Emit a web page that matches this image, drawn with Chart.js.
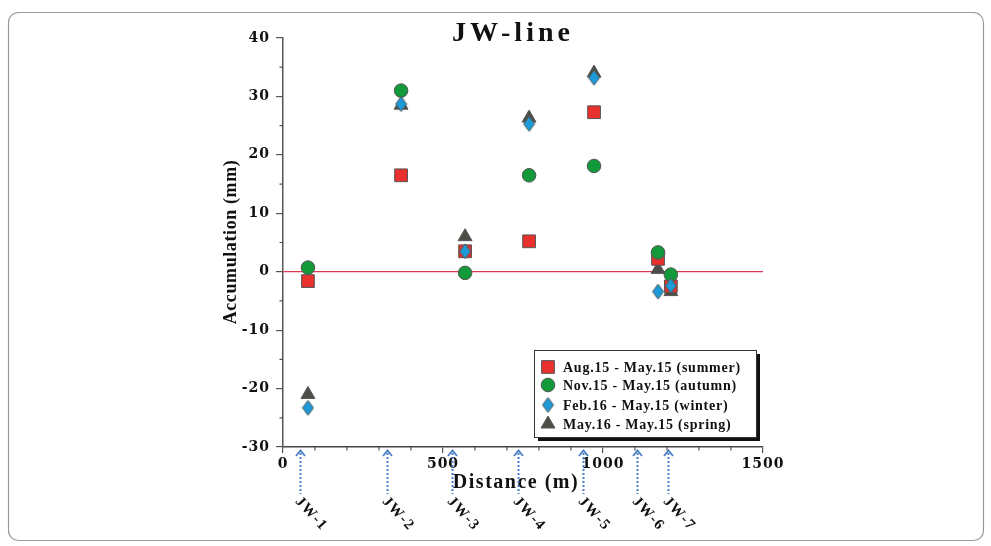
<!DOCTYPE html>
<html>
<head>
<meta charset="utf-8">
<script src="https://cdn.jsdelivr.net/npm/chart.js@4/dist/chart.umd.min.js"></script>
<style>
html,body{margin:0;padding:0;background:#fff;}
canvas{display:block;}
</style>
</head>
<body>
<canvas id="c" width="991" height="546"></canvas>
<script>
// ---- data ----
const distances = [78, 369, 569, 769, 972, 1172, 1212];
const summer = [-1.6, 16.5, 3.5, 5.2, 27.3, 2.2, -2.5];
const autumn = [0.7, 31.0, -0.2, 16.5, 18.1, 3.3, -0.5];
const winter = [-23.3, 28.7, 3.5, 25.3, 33.2, -3.4, -2.4];
const spring = [-21.0, 28.5, 6.0, 26.3, 34.0, 0.4, -3.4];
const seriesNames = [
  'Aug.15 - May.15 (summer)',
  'Nov.15 - May.15 (autumn)',
  'Feb.16 - May.15 (winter)',
  'May.16 - May.15 (spring)'
];
const wellPositions = [53, 324, 527, 734, 937, 1107, 1204];
const wellLabels = ['JW-1', 'JW-2', 'JW-3', 'JW-4', 'JW-5', 'JW-6', 'JW-7'];
const chartTitle = 'JW-line';
const xTitle = 'Distance (m)';
const yTitle = 'Accumulation (mm)';

const SERIF = '"Liberation Serif", "DejaVu Serif", serif';
const TICKFONT = '"DejaVu Serif", "Liberation Serif", serif';
const pts = (arr) => distances.map((d, i) => ({x: d, y: arr[i]}));

function makeDiamond(w, h, fill) {
  const cv = document.createElement('canvas');
  cv.width = w + 2; cv.height = h + 2;
  const c = cv.getContext('2d');
  c.beginPath();
  c.moveTo(cv.width / 2, 1);
  c.lineTo(cv.width - 1, cv.height / 2);
  c.lineTo(cv.width / 2, cv.height - 1);
  c.lineTo(1, cv.height / 2);
  c.closePath();
  c.fillStyle = fill; c.fill();
  c.strokeStyle = '#555'; c.lineWidth = 1; c.stroke();
  return cv;
}
const diamond = makeDiamond(11, 15, '#1c9bd8');

const styles = [
  {bg: '#e8302c', style: 'rect', r: 9, order: 2},
  {bg: '#12993a', style: 'circle', r: 6.8, order: 1},
  {bg: '#1c9bd8', style: diamond, r: 8, order: 0},
  {bg: '#4d4d48', style: 'triangle', r: 8, order: 3}
];
const seriesData = [summer, autumn, winter, spring];

const datasets = seriesData.map((arr, i) => ({
  label: seriesNames[i],
  data: pts(arr),
  backgroundColor: styles[i].bg,
  borderColor: '#555',
  borderWidth: 1,
  pointStyle: styles[i].style,
  pointRadius: styles[i].r,
  pointHoverRadius: styles[i].r,
  order: styles[i].order
}));

const decor = {
  id: 'decor',
  beforeDraw(chart) {
    chart.ctx.letterSpacing = '1px';
  },
  beforeDatasetsDraw(chart) {
    const {ctx, chartArea, scales} = chart;
    const y0 = scales.y.getPixelForValue(0);
    ctx.save();
    ctx.strokeStyle = '#dc3a55';
    ctx.lineWidth = 1.3;
    ctx.beginPath();
    ctx.moveTo(chartArea.left, y0);
    ctx.lineTo(chartArea.right, y0);
    ctx.stroke();
    ctx.restore();
  },
  afterDraw(chart) {
    const {ctx, chartArea, scales} = chart;
    const xs = scales.x, ys = scales.y;
    ctx.save();
    // frame
    ctx.strokeStyle = '#9a9a9a';
    ctx.lineWidth = 1.2;
    ctx.beginPath();
    ctx.roundRect(8.5, 12.5, 975, 528, 10);
    ctx.stroke();

    // minor ticks
    ctx.strokeStyle = '#555';
    ctx.lineWidth = 1.2;
    ctx.beginPath();
    for (let v = -25; v <= 35; v += 10) {
      const y = ys.getPixelForValue(v);
      ctx.moveTo(chartArea.left - 3.5, y);
      ctx.lineTo(chartArea.left, y);
    }
    for (let v = 100; v < 1500; v += 100) {
      if (v % 500 === 0) continue;
      const x = xs.getPixelForValue(v);
      ctx.moveTo(x, chartArea.bottom);
      ctx.lineTo(x, chartArea.bottom + 3.5);
    }
    ctx.stroke();

    // title
    ctx.fillStyle = '#111';
    ctx.textAlign = 'center';
    ctx.textBaseline = 'alphabetic';
    ctx.letterSpacing = '4px';
    ctx.font = 'bold 28px ' + SERIF;
    ctx.fillText(chartTitle, 513, 41);

    // axis titles
    ctx.letterSpacing = '1.5px';
    ctx.font = 'bold 20px ' + SERIF;
    ctx.fillText(xTitle, 516, 488);
    ctx.letterSpacing = '0.6px';
    ctx.font = 'bold 18px ' + SERIF;
    ctx.save();
    ctx.translate(236, 242);
    ctx.rotate(-Math.PI / 2);
    ctx.fillText(yTitle, 0, 0);
    ctx.restore();

    // legend
    const lx = 534, ly = 350, lw = 222, lh = 87;
    ctx.fillStyle = '#111';
    ctx.fillRect(lx + 4, ly + 4, lw, lh);
    ctx.fillStyle = '#fff';
    ctx.fillRect(lx, ly, lw, lh);
    ctx.strokeStyle = '#333';
    ctx.lineWidth = 1;
    ctx.strokeRect(lx + 0.5, ly + 0.5, lw, lh);
    ctx.textAlign = 'left';
    ctx.textBaseline = 'middle';
    ctx.letterSpacing = '0.75px';
    ctx.font = 'bold 14px ' + SERIF;
    const rowY = [367, 385, 405, 424];
    seriesNames.forEach((name, i) => {
      ctx.fillStyle = styles[i].bg;
      ctx.strokeStyle = '#555';
      ctx.lineWidth = 1;
      Chart.helpers.drawPoint(ctx, {pointStyle: styles[i].style, radius: styles[i].r, rotation: 0, borderWidth: 1}, 548, rowY[i]);
      ctx.fillStyle = '#111';
      ctx.fillText(name, 563, rowY[i] + 1);
    });

    // well arrows
    ctx.strokeStyle = '#4a7ec4';
    wellPositions.forEach((p, i) => {
      const x = Math.round(xs.getPixelForValue(p)) + 0.5;
      ctx.lineWidth = 2;
      ctx.setLineDash([2, 2]);
      ctx.beginPath();
      ctx.moveTo(x, 453);
      ctx.lineTo(x, 494);
      ctx.stroke();
      ctx.setLineDash([]);
      ctx.lineWidth = 1.8;
      ctx.beginPath();
      ctx.moveTo(x - 4.5, 456);
      ctx.lineTo(x, 450.5);
      ctx.lineTo(x + 4.5, 456);
      ctx.stroke();
      ctx.save();
      ctx.translate(x - 3, 499);
      ctx.rotate(47 * Math.PI / 180);
      ctx.fillStyle = '#111';
      ctx.letterSpacing = '1.5px';
      ctx.font = 'bold 15px ' + SERIF;
      ctx.textAlign = 'left';
      ctx.textBaseline = 'middle';
      ctx.fillText(wellLabels[i], 0, 0);
      ctx.restore();
    });
    ctx.restore();
  }
};

new Chart(document.getElementById('c'), {
  type: 'scatter',
  data: {datasets},
  options: {
    responsive: false,
    animation: false,
    devicePixelRatio: 1,
    layout: {padding: {left: 0, top: 38, right: 228, bottom: 0}},
    plugins: {legend: {display: false}, tooltip: {enabled: false}, title: {display: false}},
    scales: {
      x: {
        type: 'linear', min: 0, max: 1500,
        afterFit(s) { s.height = 99; },
        ticks: {stepSize: 500, color: '#111', font: {family: TICKFONT, size: 14, weight: 'bold'}, padding: 3, maxRotation: 0,
          callback: (v) => String(v)},
        grid: {display: true, drawOnChartArea: false, drawTicks: true, tickLength: 6, color: '#555', lineWidth: 1.2},
        border: {display: true, color: '#444', width: 1.5}
      },
      y: {
        type: 'linear', min: -30, max: 40,
        afterFit(s) { s.width = 283; },
        ticks: {stepSize: 10, color: '#111', font: {family: TICKFONT, size: 14, weight: 'bold'}, padding: 6,
          callback: (v) => String(v)},
        grid: {display: true, drawOnChartArea: false, drawTicks: true, tickLength: 7, color: '#555', lineWidth: 1.2},
        border: {display: true, color: '#555', width: 1.5}
      }
    }
  },
  plugins: [decor]
});
</script>
</body>
</html>
